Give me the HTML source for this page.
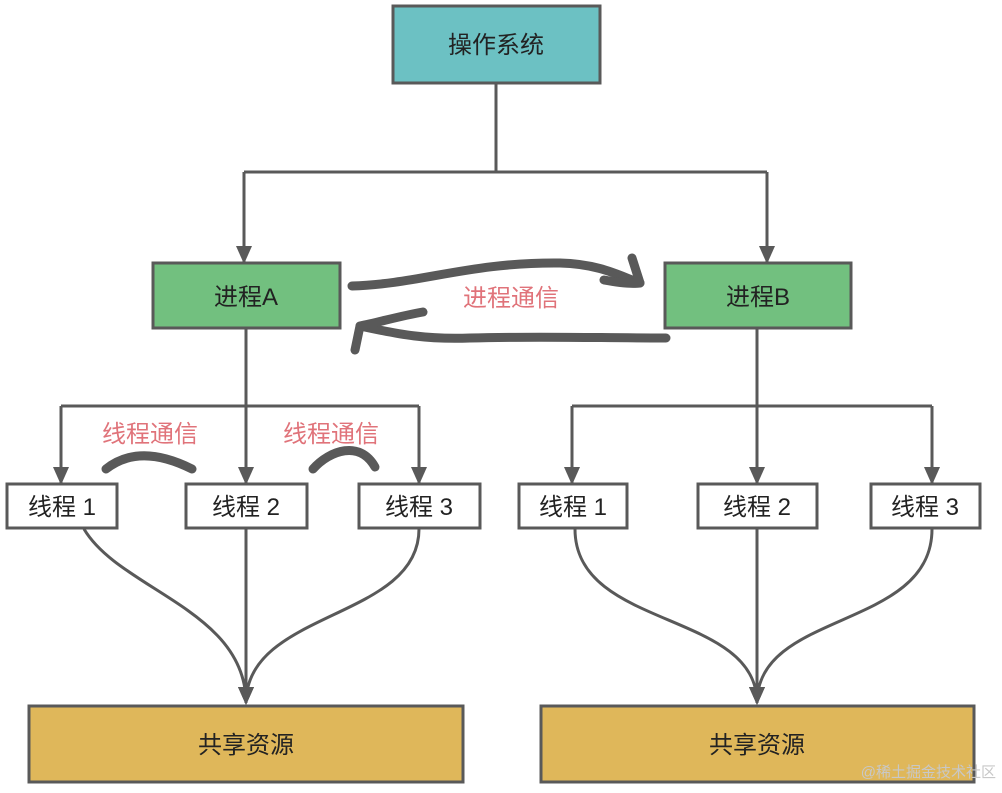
<!DOCTYPE html>
<html><head><meta charset="utf-8"><style>
body{margin:0;background:#fff;}
svg text{font-family:"Liberation Sans","Noto Sans CJK SC",sans-serif;}
</style></head><body>
<svg width="1002" height="788" viewBox="0 0 1002 788" xmlns="http://www.w3.org/2000/svg">
<defs>
<marker id="ar" markerWidth="18" markerHeight="16" refX="16" refY="8" orient="auto" markerUnits="userSpaceOnUse" viewBox="0 0 18 16">
<path d="M0,0 L18,8 L0,16 z" fill="#595959"/></marker>
</defs>
<g stroke="#595959" stroke-width="3" fill="none">
<path d="M496,84 V172 M244,172 H767"/>
<path d="M244,172 V262" marker-end="url(#ar)"/>
<path d="M767,172 V262" marker-end="url(#ar)"/>
<path d="M246,329 V483" marker-end="url(#ar)"/>
<path d="M61,406 H419"/>
<path d="M61,406 V483" marker-end="url(#ar)"/>
<path d="M419,406 V483" marker-end="url(#ar)"/>
<path d="M757,329 V483" marker-end="url(#ar)"/>
<path d="M572,406 H932"/>
<path d="M572,406 V483" marker-end="url(#ar)"/>
<path d="M932,406 V483" marker-end="url(#ar)"/>
<path d="M84,529 C120,590 246,610 246,703" marker-end="url(#ar)"/>
<path d="M246,529 V703" marker-end="url(#ar)"/>
<path d="M419,529 C419,620 246,610 246,703" marker-end="url(#ar)"/>
<path d="M575,529 C575,630 757,610 757,703" marker-end="url(#ar)"/>
<path d="M757,529 V703" marker-end="url(#ar)"/>
<path d="M932,529 C932,630 757,610 757,703" marker-end="url(#ar)"/>
</g>
<g stroke="#595959" stroke-width="9" fill="none" stroke-linecap="round" stroke-linejoin="round">
<path d="M352,286 C420,284 470,262 560,263 C600,264 620,276 640,283"/>
<path d="M604,280 C620,283 632,284 640,283 L632,258"/>
<path d="M666,338 C600,338 540,336 470,338 C420,340 390,332 360,326"/>
<path d="M423,312 C400,316 380,322 360,326 L355,350"/>
<path d="M106,469 C130,450 160,453 192,469"/>
<path d="M313,469 C330,450 360,440 375,467"/>
</g>
<g stroke="#595959" stroke-width="3">
<rect x="393" y="6" width="207" height="77" fill="#6cc1c3"/>
<rect x="153" y="263" width="187" height="65" fill="#72c07f"/>
<rect x="665" y="263" width="186" height="65" fill="#72c07f"/>
<rect x="7" y="484" width="110" height="44" fill="#fff"/>
<rect x="186" y="484" width="121" height="44" fill="#fff"/>
<rect x="359" y="484" width="121" height="44" fill="#fff"/>
<rect x="519" y="484" width="108" height="44" fill="#fff"/>
<rect x="698" y="484" width="119" height="44" fill="#fff"/>
<rect x="871" y="484" width="109" height="44" fill="#fff"/>
<rect x="29" y="706" width="434" height="76" fill="#dfb75a"/>
<rect x="541" y="706" width="433" height="76" fill="#dfb75a"/>
</g>
<g font-size="24" fill="#222" text-anchor="middle">
<text x="496" y="53">操作系统</text>
<text x="246" y="305">进程A</text>
<text x="758" y="305">进程B</text>
<text x="62" y="515">线程 1</text>
<text x="246" y="515">线程 2</text>
<text x="419" y="515">线程 3</text>
<text x="573" y="515">线程 1</text>
<text x="757" y="515">线程 2</text>
<text x="925" y="515">线程 3</text>
<text x="246" y="753">共享资源</text>
<text x="757" y="753">共享资源</text>
</g>
<g font-size="24" fill="#e0737a" text-anchor="middle">
<text x="511" y="306">进程通信</text>
<text x="150" y="442">线程通信</text>
<text x="331" y="442">线程通信</text>
</g>
<text x="996" y="777" font-size="15" fill="#c8c8c8" text-anchor="end">@稀土掘金技术社区</text>
</svg>
</body></html>
